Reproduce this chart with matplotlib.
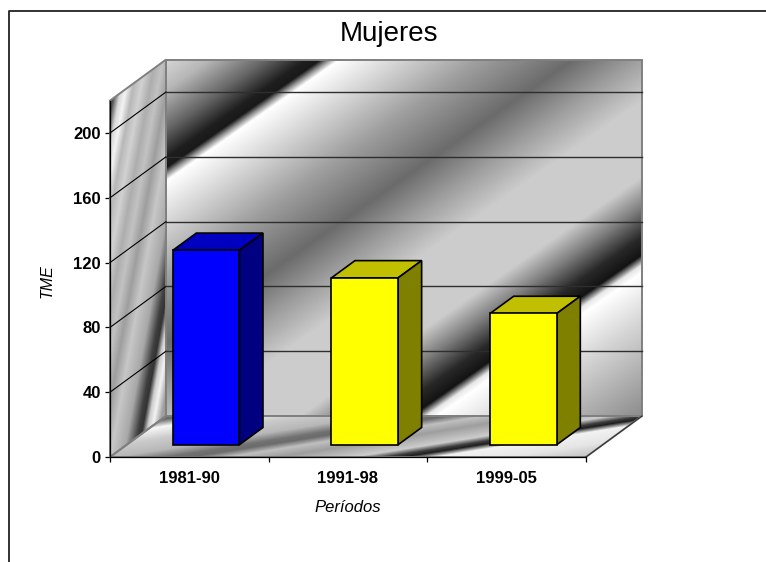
import numpy as np
import matplotlib
matplotlib.use('Agg')
import matplotlib.pyplot as plt
from matplotlib.lines import Line2D
from matplotlib.patches import Polygon

plt.rcParams['font.family'] = ['Liberation Sans', 'DejaVu Sans']

# Data
periods = ['1981-90', '1991-98', '1999-05']
tme = [120, 103, 81]
y_ticks = [0, 40, 80, 120, 160, 200]
y_max = 220

front_colors = ['#0000FF', '#FFFF00', '#FFFF00']
top_colors = ['#0000C0', '#C0C000', '#C0C000']
side_colors = ['#000080', '#808000', '#808000']

# Pixel layout of the reference
W, H = 766, 562
x0_px, x1_px, y0_px = 110, 586, 457
px_per_unit = 1.62
px_per_cat = (x1_px - x0_px) / len(periods)
depth_x = 56 / px_per_cat
depth_y = 41 / px_per_unit
bar_width = 0.42
bar_front, bar_back = 0.30, 0.72

# Grey bands of the textured walls (position along the band, grey level)
wall_stops = ([0, 30, 70, 98, 108, 114, 121, 160, 220, 285, 330, 375, 450, 480, 510, 528, 538, 546, 590, 689],
              [.84, .72, .40, .12, .10, .55, 1.0, .85, .62, .42, .62, .80, .80, .50, .16, .08, .90, 1.0, .85, .55])
side_stops = ([110, 120, 126, 131, 138, 146, 155, 163, 172, 182, 195, 205, 209, 214, 219, 226, 232],
              [.35, .32, .85, .95, .72, .82, .68, .76, .62, .78, .66, .25, .20, .80, .95, .62, .62])
floor_stops = ([5, 12, 19, 30, 42, 50, 54, 60, 68, 80, 85, 88, 93, 105, 118],
               [.50, .42, .97, .80, .72, .45, .42, .75, .62, .80, .25, .12, .95, .90, .75])


def proj(cat, value, depth=0.0):
    return cat + depth * depth_x, value + depth * depth_y


def px_extent(left, right, top, bottom):
    to_x = lambda p: (p - x0_px) / px_per_cat
    to_y = lambda p: (y0_px - p) / px_per_unit
    return [to_x(left), to_x(right), to_y(bottom), to_y(top)]


def texture(ax, band, stops, corners):
    # grey image, cut down to one wall of the box
    left, right, top, bottom = 100, 650, 50, 465
    xx, yy = np.meshgrid(np.arange(left, right) + 0.5, np.arange(top, bottom) + 0.5)
    img = np.interp(band(xx, yy), stops[0], stops[1])
    im = ax.imshow(img, cmap='gray', vmin=0, vmax=1, aspect='auto', origin='upper',
                   extent=px_extent(left, right, top, bottom), interpolation='bilinear', zorder=1)
    im.set_clip_path(Polygon(corners, closed=True, transform=ax.transData))
    im.set_clip_box(ax.figure.bbox)


fig = plt.figure(figsize=(W / 100, H / 100), dpi=100)
ax = fig.add_axes([x0_px / W, 1 - y0_px / H, (x1_px - x0_px) / W, y_max * px_per_unit / H])
ax.patch.set_visible(False)

n = len(periods)
wall = [proj(0, 0, 1), proj(n, 0, 1), proj(n, y_max, 1), proj(0, y_max, 1)]
side = [proj(0, 0), proj(0, 0, 1), proj(0, y_max, 1), proj(0, y_max)]
floor = [proj(0, 0), proj(n, 0), proj(n, 0, 1), proj(0, 0, 1)]

texture(ax, lambda x, y: (y - 60) + 0.7 * (x - 166), wall_stops, wall)
texture(ax, lambda x, y: x + 0.18 * (y - 60), side_stops, side)
texture(ax, lambda x, y: (y - 416) + 0.16 * (x - 110), floor_stops, floor)

# outlines of the box
for pts in (wall, side, floor):
    ax.add_patch(Polygon(pts, closed=True, fill=False, ec='#808080', lw=1.4, zorder=2, clip_on=False))
ax.plot(*zip(proj(n, 0), proj(n, 0, 1)), color='#333333', lw=0.8, zorder=2, clip_on=False)

# gridlines run along the side wall, then along the back wall
for v in y_ticks[1:]:
    ax.plot(*zip(proj(0, v), proj(0, v, 1)), color='black', lw=0.8, zorder=3, clip_on=False)
    ax.plot(*zip(proj(0, v, 1), proj(n, v, 1)), color='#2e2e2e', lw=1.0, zorder=3, clip_on=False)

# 3D bars
for i, value in enumerate(tme):
    a = i + 0.5 - bar_width / 2
    b = i + 0.5 + bar_width / 2
    front = [proj(a, 0, bar_front), proj(b, 0, bar_front), proj(b, value, bar_front), proj(a, value, bar_front)]
    top = [proj(a, value, bar_front), proj(b, value, bar_front), proj(b, value, bar_back), proj(a, value, bar_back)]
    right = [proj(b, 0, bar_front), proj(b, 0, bar_back), proj(b, value, bar_back), proj(b, value, bar_front)]
    for pts, c in ((top, top_colors[i]), (right, side_colors[i]), (front, front_colors[i])):
        ax.add_patch(Polygon(pts, closed=True, fc=c, ec='black', lw=1.2, joinstyle='miter', zorder=4, clip_on=False))

ax.set_xlim(0, n)
ax.set_ylim(0, y_max)
for s in ('top', 'right'):
    ax.spines[s].set_visible(False)
for s in ('left', 'bottom'):
    ax.spines[s].set_linewidth(0.9)
    ax.spines[s].set_zorder(5)

ax.set_yticks(y_ticks)
ax.set_yticklabels([str(v) for v in y_ticks], fontsize=12, fontweight='bold')
ax.tick_params(axis='y', length=3.6, width=0.9, pad=3)
ax.set_xticks(np.arange(n + 1))
ax.set_xticklabels([])
ax.tick_params(axis='x', which='major', length=3.6, width=0.9)
ax.set_xticks(np.arange(n) + 0.5, minor=True)
ax.set_xticklabels(periods, minor=True, fontsize=12, fontweight='bold')
ax.tick_params(axis='x', which='minor', length=0, pad=10)

fig.text(389 / W, 1 - 34 / H, 'Mujeres', fontsize=20, ha='center', va='center')
fig.text(47 / W, 1 - 281 / H, 'TME', fontsize=11.5, style='italic', rotation=90, ha='center', va='center')
fig.text(348 / W, 1 - 507 / H, 'Períodos', fontsize=12, style='italic', ha='center', va='center')

# chart frame: only the left and top edges fall inside the picture
fig.add_artist(Line2D([8.5 / W, 8.5 / W, 1], [0, 1 - 11 / H, 1 - 11 / H], color='#222222', lw=1.3))

fig.savefig('out.png', dpi=100)
